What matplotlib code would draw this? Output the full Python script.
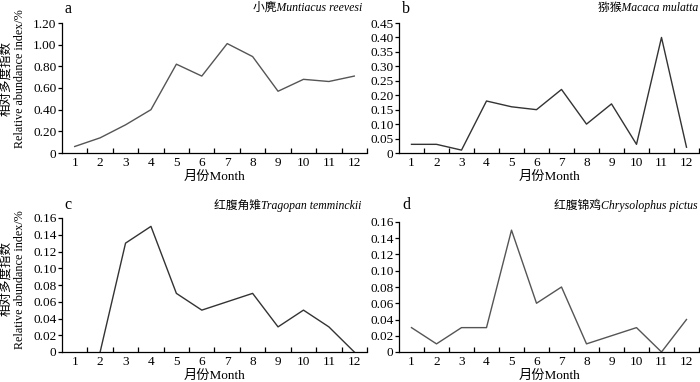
import numpy as np
import matplotlib
matplotlib.use("Agg")
import matplotlib.pyplot as plt
from matplotlib.ticker import FixedLocator

plt.rcParams['font.family'] = ['Liberation Serif', 'Noto Sans CJK SC']

months = list(range(1, 13))
month_labels = [str(m) for m in months]

# relative abundance index per month
muntjac = [0.06, 0.14, 0.26, 0.40, 0.82, 0.71, 1.01, 0.89, 0.57, 0.68, 0.66, 0.71]
macaque = [0.03, 0.03, 0.01, 0.18, 0.16, 0.15, 0.22, 0.10, 0.17, 0.03, 0.40, 0.02]
tragopan = [np.nan, 0.00, 0.13, 0.15, 0.07, 0.05, 0.06, 0.07, 0.03, 0.05, 0.03, 0.00]
pheasant = [0.03, 0.01, 0.03, 0.03, 0.15, 0.06, 0.08, 0.01, 0.02, 0.03, 0.00, 0.04]

yt_a = [0, 0.2, 0.4, 0.6, 0.8, 1.0, 1.2]
yl_a = ['0', '0.20', '0.40', '0.60', '0.80', '1.00', '1.20']
yt_b = [0, 0.05, 0.10, 0.15, 0.20, 0.25, 0.30, 0.35, 0.40, 0.45]
yl_b = ['0', '0.05', '0.10', '0.15', '0.20', '0.25', '0.30', '0.35', '0.40', '0.45']
yt_cd = [0, 0.02, 0.04, 0.06, 0.08, 0.10, 0.12, 0.14, 0.16]
yl_cd = ['0', '0.02', '0.04', '0.06', '0.08', '0.10', '0.12', '0.14', '0.16']

W, H = 700, 382
fig = plt.figure(figsize=(7, 3.82), dpi=100)


def px_axes(l, t, r, b):
    return fig.add_axes([l / W, 1 - b / H, (r - l) / W, (b - t) / H])


panels = [
    (px_axes(62, 23, 367, 153), muntjac, yt_a, yl_a, '#555555'),
    (px_axes(399, 23, 699, 153), macaque, yt_b, yl_b, '#333333'),
    (px_axes(62, 218, 367, 352), tragopan, yt_cd, yl_cd, '#333333'),
    (px_axes(399, 222, 699, 352), pheasant, yt_cd, yl_cd, '#555555'),
]

for ax, vals, yt, yl, col in panels:
    ax.plot(months, vals, color=col, lw=1.0, clip_on=False)
    ax.set_xlim(0.5, 12.5)
    ax.set_ylim(0, yt[-1])
    ax.set_yticks(yt)
    ax.set_yticklabels(yl)
    ax.set_xticks(months)
    ax.set_xticklabels(month_labels)
    ax.xaxis.set_minor_locator(FixedLocator(np.arange(1.5, 13, 1.0)))
    ax.tick_params(axis='x', which='major', length=0, pad=3, labelsize=9.5)
    ax.tick_params(axis='x', which='minor', direction='in', length=3.5, width=0.9)
    ax.tick_params(axis='y', direction='out', length=3, width=0.9, pad=1, labelsize=9.5)
    for s in ['top', 'right']:
        ax.spines[s].set_visible(False)
    for s in ['left', 'bottom']:
        ax.spines[s].set_linewidth(0.9)
    ax.set_xlabel('月份Month', fontsize=9.5, labelpad=1)

# panel letters
for lab, x, y in [('a', 68, 9), ('b', 406, 9), ('c', 68, 205), ('d', 406, 205)]:
    fig.text(x / W, 1 - y / H, lab, fontsize=11.5, ha='center', va='center')

# species names
titles = [
    ('小麂Muntiacus reevesi', 362, 8),
    ('猕猴Macaca mulatta', 698, 8),
    ('红腹角雉Tragopan temminckii', 361, 205),
    ('红腹锦鸡Chrysolophus pictus', 698, 205),
]
for txt, x, y in titles:
    fig.text(x / W, 1 - y / H, txt, fontsize=8.5, style='italic',
             ha='right', va='center')

# y axis labels on left panels, two lines of different size
for yc in [79, 280]:
    fig.text(6 / W, 1 - (yc - 1) / H, '相对多度指数', rotation=90, fontsize=9,
             ha='center', va='center')
    fig.text(20.5 / W, 1 - yc / H, 'Relative abundance index/%', rotation=90,
             fontsize=8.7, ha='center', va='center')

fig.savefig('out.png', dpi=100)
